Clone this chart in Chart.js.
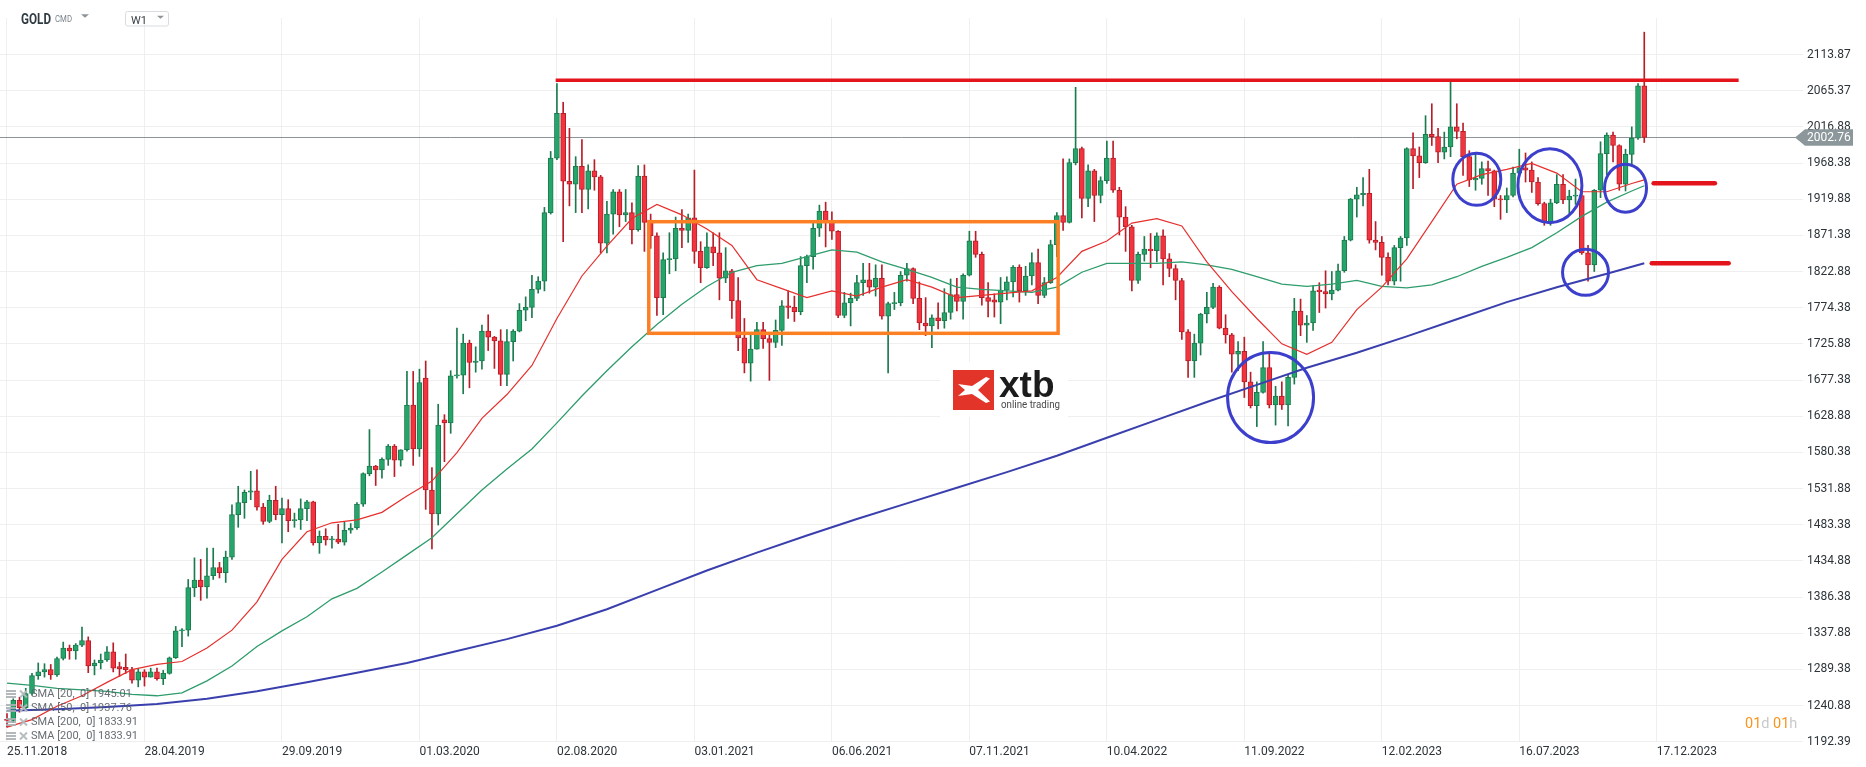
<!DOCTYPE html>
<html>
<head>
<meta charset="utf-8">
<title>GOLD W1</title>
<script src="https://cdn.jsdelivr.net/npm/chart.js@4.4.0/dist/chart.umd.min.js"></script>
<style>
html, body { margin: 0; padding: 0; background: #ffffff; }
#wrap { position: relative; width: 1866px; height: 767px; }
</style>
</head>
<body>
<div id="wrap"><canvas id="goldChart"></canvas></div>
<script>
// weekly candles, one per week from 25.11.2018
var dateLabels = ["25.11.2018", "28.04.2019", "29.09.2019", "01.03.2020", "02.08.2020", "03.01.2021",
    "06.06.2021", "07.11.2021", "10.04.2022", "11.09.2022", "12.02.2023", "16.07.2023", "17.12.2023"];
var weeksPerLabel = 22;

var priceTicks = [1192.39, 1240.88, 1289.38, 1337.88, 1386.38, 1434.88, 1483.38, 1531.88, 1580.38, 1628.88,
    1677.38, 1725.88, 1774.38, 1822.88, 1871.38, 1919.88, 1968.38, 2016.88, 2065.37, 2113.87];

var opens = [
    1222, 1221, 1248, 1238, 1257, 1281, 1286, 1289, 1282, 1304,
    1318, 1314, 1322, 1328, 1294, 1298, 1302, 1313, 1293, 1292,
    1289, 1275, 1286, 1279, 1286, 1277, 1284, 1305, 1341, 1342,
    1399, 1409, 1400, 1415, 1426, 1419, 1440, 1497, 1513, 1527,
    1529, 1507, 1488, 1516, 1497, 1505, 1489, 1490, 1505, 1514,
    1459, 1468, 1463, 1464, 1460, 1476, 1479, 1511, 1552, 1562,
    1557, 1571, 1589, 1570, 1584, 1644, 1585, 1680, 1530, 1498,
    1624, 1620, 1683, 1684, 1727, 1701, 1703, 1743, 1735, 1730,
    1685, 1729, 1743, 1771, 1775, 1799, 1810, 1902, 1975, 2035,
    1944, 1940, 1964, 1933, 1958, 1950, 1861, 1900, 1930, 1899,
    1902, 1879, 1951, 1889, 1871, 1788, 1839, 1840, 1881, 1878,
    1895, 1850, 1828, 1856, 1848, 1814, 1824, 1784, 1734, 1700,
    1719, 1745, 1733, 1728, 1744, 1777, 1775, 1769, 1831, 1843,
    1881, 1904, 1891, 1877, 1764, 1781, 1787, 1808, 1812, 1802,
    1814, 1763, 1780, 1781, 1818, 1827, 1787, 1754, 1750, 1761,
    1757, 1768, 1792, 1783, 1818, 1864, 1846, 1788, 1785, 1782,
    1798, 1809, 1829, 1797, 1817, 1835, 1791, 1808, 1859, 1898,
    1889, 1969, 1988, 1921, 1958, 1925, 1945, 1975, 1932, 1896,
    1883, 1811, 1846, 1853, 1851, 1871, 1840, 1827, 1811, 1742,
    1703, 1727, 1766, 1775, 1802, 1747, 1738, 1712, 1716, 1675,
    1643, 1661, 1694, 1644, 1656, 1644, 1681, 1770, 1751, 1754,
    1798, 1796, 1793, 1798, 1824, 1865, 1920, 1926, 1928, 1865,
    1862, 1842, 1810, 1855, 1868, 1988, 1978, 1969, 2007, 2004,
    1983, 1990, 2017, 2011, 1977, 1946, 1948, 1961, 1958, 1920,
    1919, 1925, 1955, 1962, 1959, 1943, 1914, 1889, 1915, 1940,
    1919, 1924, 1925, 1848, 1832, 1932, 1981, 2006, 1992, 1940,
    1980, 2002, 2072
];
var highs = [
    1230, 1250, 1252, 1264, 1284, 1298, 1297, 1296, 1306, 1326,
    1322, 1324, 1346, 1333, 1302, 1310, 1320, 1325, 1299, 1310,
    1292, 1290, 1289, 1291, 1291, 1288, 1306, 1347, 1344, 1410,
    1439, 1437, 1452, 1452, 1433, 1448, 1510, 1535, 1530, 1555,
    1557, 1512, 1523, 1535, 1519, 1517, 1499, 1518, 1516, 1515,
    1475, 1478, 1468, 1484, 1487, 1485, 1513, 1553, 1611, 1563,
    1573, 1591, 1591, 1584, 1689, 1689, 1692, 1703, 1560, 1645,
    1631, 1690, 1747, 1739, 1731, 1722, 1751, 1765, 1736, 1745,
    1745, 1745, 1780, 1789, 1818, 1816, 1909, 1984, 2075, 2050,
    2015, 1977, 2000, 1966, 1973, 1952, 1917, 1933, 1933, 1933,
    1915, 1965, 1966, 1900, 1875, 1848, 1875, 1896, 1906, 1900,
    1959, 1863, 1875, 1875, 1875, 1855, 1826, 1815, 1760, 1740,
    1755, 1755, 1741, 1758, 1784, 1797, 1790, 1843, 1845, 1890,
    1912, 1916, 1903, 1878, 1795, 1794, 1818, 1834, 1834, 1832,
    1832, 1782, 1795, 1823, 1834, 1828, 1809, 1788, 1765, 1781,
    1800, 1813, 1814, 1820, 1877, 1877, 1849, 1808, 1793, 1815,
    1816, 1831, 1832, 1830, 1848, 1853, 1815, 1865, 1902, 1974,
    1974, 2070, 1990, 1966, 1960, 1950, 1998, 1998, 1936, 1910,
    1885, 1849, 1870, 1874, 1875, 1879, 1847, 1832, 1814, 1745,
    1739, 1767, 1795, 1807, 1804, 1765, 1740, 1729, 1735, 1688,
    1675, 1729, 1714, 1669, 1675, 1684, 1787, 1786, 1764, 1804,
    1808, 1824, 1823, 1833, 1870, 1921, 1936, 1949, 1960, 1890,
    1870, 1848, 1858, 1870, 1989, 2009, 1990, 2032, 2048, 2015,
    2010, 2079, 2048, 2022, 1985, 1983, 1970, 1971, 1959, 1925,
    1935, 1963, 1987, 1982, 1970, 1949, 1916, 1920, 1953, 1953,
    1932, 1947, 1936, 1858, 1933, 1997, 2009, 2010, 1993, 1987,
    2017, 2075, 2144
];
var lows = [
    1212, 1218, 1232, 1234, 1255, 1276, 1279, 1276, 1280, 1302,
    1303, 1303, 1320, 1285, 1282, 1290, 1300, 1286, 1280, 1284,
    1271, 1266, 1267, 1279, 1275, 1269, 1283, 1304, 1320, 1334,
    1387, 1382, 1385, 1410, 1412, 1406, 1437, 1480, 1492, 1517,
    1503, 1484, 1486, 1490, 1459, 1474, 1480, 1477, 1489, 1456,
    1445, 1456, 1452, 1458, 1456, 1472, 1477, 1508, 1549, 1536,
    1546, 1563, 1548, 1562, 1582, 1563, 1575, 1504, 1451, 1483,
    1568, 1606, 1680, 1659, 1667, 1688, 1692, 1717, 1693, 1670,
    1670, 1703, 1742, 1757, 1761, 1794, 1797, 1900, 1973, 1863,
    1911, 1902, 1902, 1907, 1932, 1848, 1848, 1873, 1883, 1890,
    1860, 1877, 1850, 1854, 1764, 1765, 1820, 1824, 1855, 1862,
    1834, 1808, 1827, 1831, 1785, 1808, 1760, 1717, 1687, 1676,
    1719, 1720, 1677, 1721, 1724, 1760, 1756, 1765, 1808, 1826,
    1870, 1856, 1866, 1761, 1761, 1750, 1784, 1791, 1794, 1790,
    1759, 1687, 1772, 1777, 1810, 1780, 1745, 1737, 1721, 1746,
    1747, 1759, 1770, 1759, 1817, 1842, 1778, 1762, 1762, 1753,
    1785, 1789, 1782, 1791, 1805, 1780, 1788, 1807, 1843, 1878,
    1888, 1966, 1895, 1910, 1890, 1915, 1941, 1929, 1872, 1850,
    1797, 1807, 1837, 1828, 1836, 1805, 1816, 1785, 1732, 1681,
    1681, 1711, 1754, 1773, 1746, 1727, 1688, 1690, 1654, 1640,
    1615, 1660, 1640, 1617, 1638, 1616, 1672, 1737, 1728, 1744,
    1768, 1774, 1785, 1797, 1822, 1864, 1896, 1911, 1861, 1852,
    1818, 1805, 1805, 1810, 1858, 1934, 1949, 1968, 1992, 1969,
    1974, 1977, 2001, 1952, 1937, 1932, 1940, 1925, 1910, 1893,
    1902, 1923, 1952, 1943, 1929, 1912, 1885, 1885, 1914, 1914,
    1901, 1913, 1846, 1810, 1823, 1922, 1953, 1970, 1932, 1931,
    1965, 2000, 1996
];
var closes = [
    1221, 1248, 1238, 1257, 1281, 1286, 1289, 1282, 1304, 1318,
    1314, 1322, 1328, 1294, 1298, 1302, 1313, 1291, 1290, 1289,
    1275, 1286, 1279, 1286, 1277, 1284, 1305, 1341, 1342, 1399,
    1409, 1400, 1415, 1426, 1419, 1440, 1497, 1513, 1527, 1529,
    1507, 1488, 1516, 1497, 1505, 1489, 1490, 1505, 1514, 1459,
    1468, 1463, 1464, 1460, 1476, 1479, 1511, 1552, 1562, 1557,
    1571, 1589, 1570, 1584, 1644, 1585, 1674, 1530, 1498, 1617,
    1620, 1683, 1684, 1727, 1701, 1703, 1743, 1735, 1730, 1685,
    1729, 1743, 1771, 1775, 1799, 1810, 1902, 1975, 2035, 1944,
    1940, 1964, 1933, 1958, 1950, 1861, 1900, 1930, 1899, 1902,
    1879, 1951, 1889, 1871, 1788, 1839, 1840, 1881, 1878, 1895,
    1850, 1828, 1856, 1848, 1814, 1824, 1784, 1734, 1700, 1719,
    1745, 1733, 1728, 1744, 1777, 1775, 1769, 1831, 1843, 1881,
    1904, 1891, 1877, 1764, 1781, 1787, 1808, 1812, 1802, 1814,
    1763, 1780, 1781, 1818, 1827, 1787, 1754, 1750, 1761, 1757,
    1768, 1792, 1783, 1818, 1864, 1846, 1788, 1783, 1782, 1798,
    1809, 1829, 1797, 1817, 1835, 1791, 1808, 1859, 1898, 1889,
    1969, 1988, 1921, 1958, 1925, 1945, 1975, 1932, 1896, 1883,
    1811, 1846, 1853, 1851, 1871, 1840, 1827, 1811, 1742, 1703,
    1727, 1766, 1775, 1802, 1747, 1738, 1712, 1716, 1675, 1643,
    1661, 1694, 1644, 1656, 1644, 1681, 1770, 1751, 1754, 1797,
    1796, 1793, 1798, 1824, 1865, 1920, 1926, 1928, 1865, 1862,
    1842, 1810, 1855, 1868, 1988, 1978, 1969, 2007, 2004, 1983,
    1990, 2017, 2011, 1977, 1946, 1948, 1961, 1958, 1920, 1919,
    1925, 1955, 1962, 1959, 1943, 1914, 1889, 1915, 1940, 1919,
    1924, 1925, 1848, 1832, 1932, 1981, 2006, 1992, 1940, 1980,
    2002, 2072, 2003
];

// moving averages (every 4th week)
var smaWeeks = [0, 4, 8, 12, 16, 20, 24, 28, 32, 36, 40, 44, 48, 52, 56, 60, 64, 68, 72, 76,
    80, 84, 88, 92, 96, 100, 104, 108, 112, 116, 120, 124, 128, 132, 136, 140, 144, 148, 152, 156,
    160, 164, 168, 172, 176, 180, 184, 188, 192, 196, 200, 204, 208, 212, 216, 220, 224, 228, 232, 236,
    240, 244, 248, 252, 256, 260, 262];
var sma20 = [1212, 1222, 1240, 1254, 1272, 1289, 1296, 1300, 1318, 1342, 1380, 1437, 1474, 1486, 1490, 1500, 1522, 1542, 1580, 1626,
    1658, 1697, 1760, 1817, 1857, 1894, 1913, 1899, 1880, 1858, 1812, 1800, 1788, 1797, 1790, 1802, 1812, 1802, 1788, 1791,
    1794, 1797, 1815, 1850, 1864, 1888, 1894, 1884, 1836, 1796, 1760, 1726, 1712, 1728, 1772, 1802, 1840, 1890, 1940, 1953,
    1960, 1968, 1955, 1930, 1930, 1941, 1946];
var sma50 = [1271, 1268, 1264, 1262, 1260, 1256, 1254, 1258, 1274, 1294, 1320, 1341, 1360, 1384, 1398, 1420, 1443, 1466, 1498, 1530,
    1558, 1585, 1620, 1656, 1690, 1722, 1752, 1779, 1803, 1822, 1831, 1834, 1843, 1852, 1849, 1836, 1826, 1815, 1802, 1799,
    1797, 1795, 1802, 1822, 1834, 1834, 1834, 1836, 1832, 1826, 1816, 1806, 1803, 1806, 1811, 1803, 1801, 1805, 1816, 1830,
    1842, 1855, 1875, 1897, 1916, 1931, 1938];
var sma200Weeks = [0, 8, 16, 24, 32, 40, 48, 56, 64, 72, 80, 88, 96, 104, 112, 120, 128, 136, 144, 152,
    160, 168, 176, 184, 192, 200, 208, 216, 224, 232, 240, 248, 256, 262];
var sma200 = [1234, 1236, 1239, 1243, 1250, 1260, 1272, 1285, 1298, 1314, 1330, 1348, 1370, 1396, 1422, 1446, 1469, 1491, 1512, 1533,
    1554, 1576, 1600, 1624, 1648, 1671, 1694, 1714, 1736, 1759, 1782, 1802, 1820, 1834];

var lastPrice = 2002.76;
var legendRows = ["SMA [20,  0] 1945.01", "SMA [50,  0] 1937.76", "SMA [200,  0] 1833.91", "SMA [200,  0] 1833.91"];

var upFill = "#26a56b", upLine = "#1b7a4e";
var downFill = "#f2343f", downLine = "#b81d28";

// drawn notes on top of the chart, in week / price units
var rangeBox = { from: 102.7, to: 168.2, top: 1889.8, bottom: 1740.1 };
var topLine = { from: 87.8, to: 277.1, level: 2079.5 };
var targetLines = [{ from: 263.5, to: 273.3, level: 1941.3 }, { from: 263.2, to: 275.5, level: 1834 }];
var rings = [
    { at: 202.2, level: 1654, rx: 43, ry: 45 },
    { at: 235.2, level: 1946.7, rx: 24, ry: 26 },
    { at: 246.9, level: 1938.1, rx: 32, ry: 37 },
    { at: 252.6, level: 1821.9, rx: 23, ry: 23 },
    { at: 259.0, level: 1934.6, rx: 21, ry: 24 }
];

function drawHeader(ctx) {
    ctx.save();
    ctx.textBaseline = "alphabetic";
    ctx.fillStyle = "#2f3a42";
    ctx.font = "bold 14px Roboto";
    ctx.fillText("GOLD", 21, 24, 30);
    ctx.fillStyle = "#7b858b";
    ctx.font = "8.5px Roboto";
    ctx.fillText("CMD", 55, 22, 17);
    ctx.fillStyle = "#8d959a";
    ctx.beginPath();
    ctx.moveTo(81, 14.3); ctx.lineTo(89, 14.3); ctx.lineTo(85, 17.8); ctx.closePath();
    ctx.fill();
    ctx.strokeStyle = "#d9dcde";
    ctx.lineWidth = 1;
    ctx.beginPath();
    ctx.roundRect(125.5, 11.5, 43, 14.5, 2);
    ctx.stroke();
    ctx.fillStyle = "#3a4248";
    ctx.font = "11px Roboto";
    ctx.fillText("W1", 131, 24);
    ctx.fillStyle = "#8d959a";
    ctx.beginPath();
    ctx.moveTo(157, 15.8); ctx.lineTo(164, 15.8); ctx.lineTo(160.5, 18.8); ctx.closePath();
    ctx.fill();
    ctx.restore();
}

function drawLegendRows(ctx) {
    ctx.save();
    ctx.font = "11px Roboto";
    ctx.textBaseline = "middle";
    var ys = [694, 708, 722, 736];
    for (var i = 0; i < legendRows.length; i++) {
        var y = ys[i];
        ctx.fillStyle = "rgba(170,176,180,0.9)";
        ctx.fillRect(6, y - 4, 10, 2);
        ctx.fillRect(6, y - 1, 10, 2);
        ctx.fillRect(6, y + 2, 10, 2);
        ctx.strokeStyle = "rgba(180,185,188,0.95)";
        ctx.lineWidth = 2;
        ctx.beginPath();
        ctx.moveTo(20, y - 3.5); ctx.lineTo(27, y + 3.5);
        ctx.moveTo(27, y - 3.5); ctx.lineTo(20, y + 3.5);
        ctx.stroke();
        ctx.fillStyle = "rgba(90,97,103,0.92)";
        ctx.fillText(legendRows[i], 31, y);
    }
    ctx.restore();
}

function drawLogo(ctx) {
    ctx.save();
    ctx.fillStyle = "#ffffff";
    ctx.fillRect(940, 362, 128, 55);
    ctx.fillStyle = "#e3342a";
    ctx.fillRect(953, 370, 41, 40);
    ctx.fillStyle = "#ffffff";
    ctx.beginPath();
    ctx.moveTo(958, 384);
    ctx.lineTo(972, 386);
    ctx.lineTo(986, 377);
    ctx.lineTo(990, 378.5);
    ctx.lineTo(978, 390);
    ctx.lineTo(990, 401.5);
    ctx.lineTo(986, 403);
    ctx.lineTo(972, 394);
    ctx.lineTo(958, 396);
    ctx.lineTo(965, 390);
    ctx.closePath();
    ctx.fill();
    ctx.fillStyle = "#1c1c1c";
    ctx.font = "bold 37px 'Liberation Sans'";
    ctx.textBaseline = "alphabetic";
    ctx.fillText("xtb", 999, 397, 64);
    ctx.fillStyle = "#4a4a4a";
    ctx.font = "11px Roboto";
    ctx.fillText("online trading", 1001, 408, 59);
    ctx.restore();
}

function drawPriceTag(chart) {
    var ctx = chart.ctx;
    var y = chart.scales.y.getPixelForValue(lastPrice);
    ctx.save();
    ctx.fillStyle = "#8c979b";
    ctx.beginPath();
    ctx.moveTo(1795, y);
    ctx.lineTo(1805, y - 8.3);
    ctx.lineTo(1853, y - 8.3);
    ctx.lineTo(1853, y + 8.3);
    ctx.lineTo(1805, y + 8.3);
    ctx.closePath();
    ctx.fill();
    ctx.fillStyle = "#ffffff";
    ctx.font = "12px Roboto";
    ctx.textBaseline = "middle";
    ctx.fillText(lastPrice.toFixed(2), 1807, y + 0.5);
    ctx.restore();
}

function drawTimer(ctx) {
    ctx.save();
    ctx.font = "14.5px Roboto";
    ctx.textBaseline = "alphabetic";
    var parts = [["01", "#f7941d"], ["d ", "#c9c9c9"], ["01", "#f7941d"], ["h", "#c9c9c9"]];
    var x = 1745;
    parts.forEach(function (p) {
        ctx.fillStyle = p[1];
        ctx.fillText(p[0], x, 727.5);
        x += ctx.measureText(p[0]).width;
    });
    ctx.restore();
}

var notesPlugin = {
    id: "notes",
    beforeDatasetsDraw: function (chart) {
        var ctx = chart.ctx, area = chart.chartArea;
        var y = chart.scales.y.getPixelForValue(lastPrice);
        ctx.save();
        ctx.strokeStyle = "#8b9498";
        ctx.lineWidth = 1;
        ctx.beginPath();
        ctx.moveTo(area.left, Math.round(y) + 0.5);
        ctx.lineTo(area.right, Math.round(y) + 0.5);
        ctx.stroke();
        ctx.restore();
    },
    afterDatasetsDraw: function (chart) {
        var ctx = chart.ctx;
        var sx = chart.scales.x, sy = chart.scales.y;
        ctx.save();
        // consolidation box
        ctx.strokeStyle = "#fd7f24";
        ctx.lineWidth = 3.5;
        var x1 = sx.getPixelForValue(rangeBox.from), x2 = sx.getPixelForValue(rangeBox.to);
        var y1 = sy.getPixelForValue(rangeBox.top), y2 = sy.getPixelForValue(rangeBox.bottom);
        ctx.strokeRect(x1, y1, x2 - x1, y2 - y1);
        // resistance
        ctx.strokeStyle = "#e3141b";
        ctx.lineWidth = 3.5;
        ctx.beginPath();
        ctx.moveTo(sx.getPixelForValue(topLine.from), sy.getPixelForValue(topLine.level));
        ctx.lineTo(sx.getPixelForValue(topLine.to), sy.getPixelForValue(topLine.level));
        ctx.stroke();
        // targets
        ctx.lineWidth = 4.5;
        ctx.lineCap = "round";
        targetLines.forEach(function (t) {
            ctx.beginPath();
            ctx.moveTo(sx.getPixelForValue(t.from), sy.getPixelForValue(t.level));
            ctx.lineTo(sx.getPixelForValue(t.to), sy.getPixelForValue(t.level));
            ctx.stroke();
        });
        // rings
        ctx.strokeStyle = "#3b3fcc";
        ctx.lineWidth = 3;
        rings.forEach(function (r) {
            ctx.beginPath();
            ctx.ellipse(sx.getPixelForValue(r.at), sy.getPixelForValue(r.level), r.rx, r.ry, 0, 0, Math.PI * 2);
            ctx.stroke();
        });
        ctx.restore();
    },
    afterDraw: function (chart) {
        var ctx = chart.ctx;
        drawLogo(ctx);
        drawHeader(ctx);
        drawLegendRows(ctx);
        drawPriceTag(chart);
        drawTimer(ctx);
    }
};

function drawChart() {
    var bodies = opens.map(function (o, i) { return { x: i, y: [o, closes[i]] }; });
    var wicks = opens.map(function (o, i) { return { x: i, y: [lows[i], highs[i]] }; });
    var bodyFill = opens.map(function (o, i) { return closes[i] >= o ? upFill : downFill; });
    var bodyLine = opens.map(function (o, i) { return closes[i] >= o ? upLine : downLine; });

    var ctx = document.getElementById("goldChart").getContext("2d");
    Chart.defaults.font.family = "Roboto";
    var goldChart = new Chart(ctx, {
        type: "bar",
        data: {
            datasets: [
                {
                    type: "line",
                    data: smaWeeks.map(function (w, k) { return { x: w, y: sma20[k] }; }),
                    borderColor: "#e5302d",
                    borderWidth: 1.2,
                    pointRadius: 0,
                    order: 0,
                },
                {
                    type: "line",
                    data: smaWeeks.map(function (w, k) { return { x: w, y: sma50[k] }; }),
                    borderColor: "#2e9c6c",
                    borderWidth: 1.3,
                    pointRadius: 0,
                    order: 0,
                },
                {
                    type: "line",
                    data: sma200Weeks.map(function (w, k) { return { x: w, y: sma200[k] }; }),
                    borderColor: "#3a3fae",
                    borderWidth: 2,
                    pointRadius: 0,
                    order: 0,
                },
                {
                    data: bodies,
                    backgroundColor: bodyFill,
                    borderColor: bodyLine,
                    borderWidth: 1,
                    borderSkipped: false,
                    barThickness: 5,
                    minBarLength: 1,
                    grouped: false,
                    order: 1,
                },
                {
                    data: wicks,
                    backgroundColor: bodyLine,
                    borderWidth: 0,
                    barThickness: 1,
                    grouped: false,
                    order: 2,
                },
            ],
        },
        options: {
            responsive: true,
            maintainAspectRatio: false,
            animation: false,
            events: [],
            layout: { padding: { top: 18, left: 0, right: 0, bottom: 0 } },
            plugins: { legend: { display: false }, tooltip: { enabled: false } },
            scales: {
                x: {
                    type: "linear",
                    min: -1.12,
                    max: 287.4,
                    offset: false,
                    grid: { color: "#efefef", drawTicks: false, offset: false },
                    border: { display: false },
                    afterBuildTicks: function (scale) {
                        scale.ticks = dateLabels.map(function (d, k) { return { value: k * weeksPerLabel }; });
                    },
                    afterFit: function (scale) { scale.height = 25; },
                    ticks: {
                        autoSkip: false,
                        maxRotation: 0,
                        align: "start",
                        padding: 3,
                        color: "#2d3439",
                        font: { size: 12 },
                        callback: function (value) { return dateLabels[Math.round(value / weeksPerLabel)]; },
                    },
                },
                y: {
                    position: "right",
                    min: 1192,
                    max: 2163,
                    grid: { color: "#efefef", drawTicks: false },
                    border: { display: false },
                    afterBuildTicks: function (scale) {
                        scale.ticks = priceTicks.map(function (v) { return { value: v }; });
                    },
                    afterFit: function (scale) { scale.width = 63; },
                    ticks: {
                        padding: 4,
                        color: "#2d3439",
                        font: { size: 12 },
                        callback: function (value) { return value.toFixed(2); },
                    },
                },
            },
        },
        plugins: [notesPlugin],
    });
}

window.onload = function () {
    drawChart();
};
</script>
</body>
</html>
